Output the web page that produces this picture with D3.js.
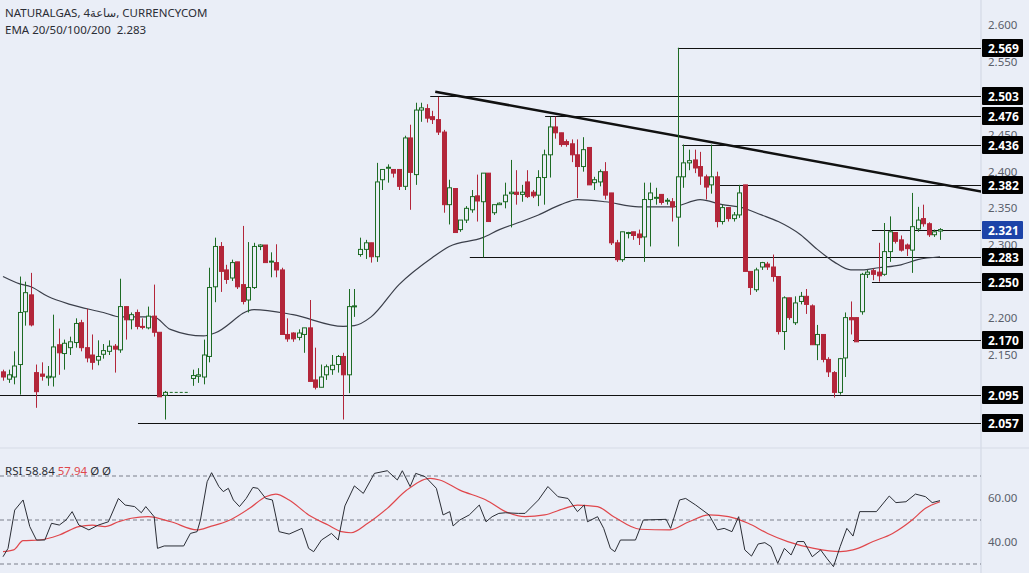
<!DOCTYPE html>
<html>
<head>
<meta charset="utf-8">
<script src="https://cdn.jsdelivr.net/npm/d3@7"></script>
<style>
  body { margin: 0; background: #eaeef7; }
  svg { display: block; font-family: "Noto Sans", "DejaVu Sans", sans-serif; }
</style>
</head>
<body>
<svg id="chart" width="1029" height="573"></svg>
<script>
// Candles [open, high, low, close], null = missing bar
var candles = [
  [2.127,2.130,2.115,2.120],[2.117,2.130,2.112,2.123],[2.120,2.155,2.110,2.135],[2.137,2.257,2.096,2.208],
  [2.209,2.250,2.190,2.235],[2.232,2.262,2.189,2.191],[2.126,2.137,2.078,2.100],[2.124,2.140,2.115,2.121],
  [2.119,2.135,2.108,2.121],[2.120,2.205,2.107,2.161],[2.164,2.186,2.123,2.153],[2.152,2.171,2.130,2.166],
  [2.160,2.175,2.150,2.168],[2.167,2.200,2.160,2.193],[2.194,2.198,2.155,2.160],[2.160,2.213,2.140,2.146],
  [2.150,2.178,2.130,2.140],[2.143,2.170,2.136,2.148],[2.151,2.165,2.145,2.156],[2.155,2.170,2.150,2.162],
  [2.162,2.165,2.126,2.158],[2.157,2.254,2.153,2.216],[2.216,2.216,2.171,2.198],[2.198,2.208,2.185,2.205],
  [2.208,2.212,2.185,2.189],[2.189,2.200,2.185,2.188],[2.187,2.216,2.185,2.203],[2.203,2.246,2.175,2.181],
  [2.181,2.181,2.093,2.093],[2.095,2.101,2.062,2.099],
  null, null, null, null,
  [2.118,2.130,2.108,2.122],[2.121,2.132,2.112,2.123],
  [2.120,2.171,2.110,2.150],[2.148,2.269,2.140,2.242],[2.243,2.310,2.222,2.298],[2.298,2.304,2.236,2.264],
  [2.266,2.273,2.247,2.253],[2.255,2.280,2.251,2.276],[2.277,2.277,2.240,2.243],[2.246,2.326,2.219,2.223],
  [2.225,2.304,2.208,2.242],[2.242,2.303,2.240,2.298],[2.298,2.301,2.293,2.300],[2.300,2.300,2.276,2.276],
  [2.277,2.290,2.256,2.278],[2.276,2.301,2.256,2.266],[2.266,2.269,2.178,2.178],[2.178,2.200,2.168,2.172],
  [2.180,2.181,2.168,2.172],[2.174,2.185,2.170,2.180],[2.178,2.187,2.153,2.187],[2.187,2.225,2.114,2.114],
  [2.116,2.160,2.103,2.106],[2.106,2.137,2.106,2.120],[2.123,2.137,2.116,2.134],[2.130,2.150,2.123,2.136],
  [2.137,2.150,2.126,2.148],[2.148,2.153,2.062,2.123],[2.123,2.240,2.098,2.216],[2.216,2.240,2.202,2.217],
  [2.287,2.310,2.284,2.294],[2.294,2.307,2.281,2.303],[2.303,2.303,2.276,2.284],[2.284,2.412,2.277,2.386],
  [2.389,2.403,2.375,2.403],[2.405,2.410,2.385,2.406],[2.403,2.403,2.392,2.398],[2.403,2.403,2.375,2.380],
  [2.380,2.449,2.375,2.446],[2.446,2.464,2.348,2.399],[2.396,2.494,2.382,2.484],[2.484,2.494,2.468,2.487],
  [2.486,2.492,2.467,2.473],[2.475,2.483,2.465,2.471],[2.471,2.502,2.450,2.454],[2.454,2.457,2.344,2.355],
  [2.355,2.389,2.328,2.378],
  [2.377,2.377,2.317,2.317],[2.321,2.334,2.318,2.334],[2.334,2.353,2.330,2.350],[2.348,2.375,2.344,2.366],
  [2.367,2.396,2.332,2.360],[2.359,2.398,2.283,2.398],[2.398,2.398,2.332,2.332],[2.344,2.355,2.341,2.355],
  [2.355,2.358,2.355,2.357],[2.359,2.385,2.350,2.368],[2.370,2.416,2.324,2.372],[2.372,2.402,2.355,2.369],
  [2.369,2.382,2.359,2.372],[2.386,2.402,2.364,2.366],[2.372,2.375,2.364,2.367],[2.368,2.402,2.353,2.392],
  [2.392,2.430,2.355,2.423],[2.423,2.475,2.392,2.461],[2.461,2.475,2.445,2.453],[2.453,2.453,2.434,2.437],
  [2.441,2.444,2.434,2.437],[2.438,2.444,2.413,2.423],[2.423,2.444,2.364,2.407],[2.407,2.447,2.400,2.430],
  [2.433,2.433,2.382,2.382],[2.385,2.393,2.375,2.389],[2.386,2.403,2.380,2.400],[2.400,2.413,2.362,2.368],
  [2.371,2.371,2.300,2.303],[2.303,2.307,2.277,2.280],[2.280,2.318,2.277,2.318],[2.317,2.318,2.309,2.317],
  [2.318,2.318,2.307,2.313],[2.315,2.321,2.300,2.310],[2.311,2.385,2.277,2.362],[2.362,2.385,2.298,2.371],
  [2.364,2.378,2.355,2.365],[2.369,2.369,2.355,2.358],[2.360,2.364,2.355,2.361],[2.359,2.364,2.332,2.352],
  [2.338,2.569,2.298,2.393],[2.393,2.437,2.378,2.412],[2.412,2.430,2.402,2.415],[2.416,2.430,2.398,2.405],
  [2.407,2.427,2.382,2.394],
  [2.393,2.396,2.362,2.379],[2.382,2.437,2.370,2.393],[2.393,2.400,2.324,2.332],[2.332,2.355,2.328,2.351],
  [2.351,2.351,2.332,2.336],[2.336,2.345,2.332,2.341],[2.341,2.382,2.337,2.371],[2.382,2.382,2.264,2.264],
  [2.264,2.264,2.232,2.242],[2.239,2.269,2.236,2.266],[2.270,2.277,2.266,2.276],[2.274,2.277,2.266,2.270],
  [2.270,2.287,2.250,2.257],[2.257,2.257,2.178,2.182],[2.182,2.230,2.157,2.228],[2.228,2.228,2.198,2.201],
  [2.194,2.230,2.191,2.221],[2.223,2.236,2.219,2.230],[2.230,2.240,2.206,2.219],[2.217,2.219,2.164,2.164],
  [2.164,2.191,2.143,2.178],[2.178,2.178,2.140,2.144],[2.144,2.147,2.120,2.127],[2.126,2.128,2.092,2.099],
  [2.099,2.146,2.096,2.145],[2.146,2.208,2.120,2.201],[2.201,2.223,2.178,2.198],[2.201,2.201,2.168,2.168],
  [2.209,2.262,2.205,2.260],[2.260,2.266,2.255,2.263],[2.265,2.268,2.252,2.260],[2.263,2.303,2.250,2.258],
  [2.260,2.330,2.258,2.291],[2.291,2.339,2.277,2.318],[2.317,2.317,2.302,2.305],[2.307,2.313,2.291,2.293],
  [2.300,2.302,2.285,2.295],[2.293,2.371,2.262,2.325],[2.322,2.352,2.318,2.334],[2.336,2.355,2.325,2.329],
  [2.329,2.331,2.311,2.314],[2.314,2.321,2.311,2.318],[2.319,2.323,2.307,2.321]
];

// EMA 50 samples [bar index, price]
var ema = [[0,2.257],[3,2.247],[5,2.243],[8,2.230],[12,2.219],[18,2.208],[21,2.202],[27,2.202],[30,2.185],
  [36,2.176],[38,2.180],[45,2.212],[52,2.205],[61,2.189],[63,2.190],[66,2.202],[71,2.246],[77,2.283],[80,2.298],
  [86,2.310],[89,2.321],[93,2.332],[96,2.341],[100,2.355],[103,2.362],[108,2.359],[114,2.352],[120,2.352],
  [125,2.362],[129,2.355],[132,2.352],[136,2.341],[139,2.332],[143,2.314],[146,2.294],[149,2.277],[152,2.266],
  [154,2.266],[157,2.269],[161,2.273],[164,2.280],[168,2.284]];

// Horizontal levels [start bar, price]
var levels = [[121,2.569],[76.6,2.503],[97.2,2.476],[121.8,2.436],[128,2.382],[155.8,2.321],
  [83.7,2.283],[155.8,2.250],[152.4,2.170],[-1,2.095],[24.2,2.057]];
var lastPrice = 2.321;
var trend = [[77.5,2.509],[175.4,2.373]];
var priceTicks = [2.600,2.550,2.500,2.450,2.400,2.350,2.300,2.250,2.200,2.150];

// RSI samples [bar index, value]
var rsi = [[0,33.3],[0.9,37.1],[2.1,54.5],[3.6,59.1],[4.8,47.0],[6.0,40.9],[7.5,40.9],[8.7,48.5],[10.1,47.7],
  [11.3,50.0],[12.4,53.8],[13.6,47.7],[15.4,45.5],[17.1,47.7],[18.9,49.2],[20.7,59.8],[21.9,56.8],[23.6,56.1],
  [24.8,53.3],[25.6,56.1],[27.1,51.5],[27.7,37.1],[28.9,38.2],[32.4,38.2],[33.6,43.9],[34.8,44.7],[35.4,50.0],
  [36.6,67.4],[37.4,71.5],[38.7,65.2],[39.5,62.9],[40.4,64.4],[41.3,59.1],[42.4,56.1],[43.6,59.8],[44.8,64.8],
  [45.7,64.4],[47.1,59.8],[48.3,59.1],[49.5,44.7],[51.3,43.6],[53.6,46.2],[54.8,37.1],[55.7,35.6],[57.1,40.9],
  [58.9,43.9],[60.1,40.9],[61.3,56.4],[63.0,65.5],[64.6,62.1],[66.6,71.2],[68.9,72.4],[70.7,68.2],[71.6,72.4],
  [73.0,65.2],[74.0,71.2],[75.7,69.7],[77.7,64.4],[78.9,52.3],[80.1,53.8],[80.7,47.3],[81.9,50.0],[83.6,52.3],
  [85.4,56.8],[86.6,49.2],[87.7,51.5],[88.9,53.0],[90.1,53.3],[92.4,53.0],[93.6,53.0],[96.0,59.1],[97.7,65.2],
  [99.5,60.6],[101.3,59.8],[103.0,53.8],[104.2,56.8],[104.8,49.2],[106.6,51.5],[107.7,46.2],[108.9,37.1],
  [109.7,35.6],[110.7,40.9],[113.4,40.9],[114.8,50.0],[118.9,50.3],[119.7,46.2],[121.3,59.1],[122.4,59.8],
  [124.2,56.8],[126.6,52.3],[128.1,45.5],[129.3,46.2],[130.7,44.7],[131.9,51.5],[133.0,36.4],[134.2,33.6],
  [135.4,39.1],[136.6,39.7],[137.7,37.9],[138.9,30.3],[140.1,37.1],[141.3,34.1],[142.4,40.2],[143.6,40.2],
  [145.1,33.3],[146.6,36.4],[147.7,32.6],[148.9,28.8],[150.1,37.9],[151.3,46.2],[152.4,42.7],[153.6,53.8],
  [156.6,53.8],[158.9,60.9],[160.1,57.9],[161.9,58.3],[163.6,61.8],[165.4,60.6],[166.6,57.9],[168.0,58.8]];
var rsiMa = [[0,35.6],[1.9,36.4],[3.6,40.6],[6.6,40.9],[10.1,43.2],[13.6,47.0],[16.0,47.7],[18.3,47.0],
  [20.7,49.2],[23.0,50.8],[26.0,51.5],[30.1,49.2],[34.8,45.5],[37.1,47.0],[40.7,50.0],[44.2,55.3],[47.1,60.6],
  [48.9,61.8],[51.3,59.1],[54.8,52.3],[58.3,47.7],[60.7,44.7],[62.4,44.2],[65.4,48.5],[68.9,55.3],[72.4,63.6],
  [76.6,68.9],[78.3,68.2],[81.9,63.6],[86.6,59.1],[90.1,53.8],[93.6,51.5],[97.1,52.3],[100.7,55.3],[103.0,56.8],
  [106.6,56.1],[109.5,51.5],[114.2,45.8],[119.5,45.5],[123.0,49.2],[126.6,52.3],[130.1,51.5],[133.6,48.5],
  [137.1,43.9],[140.7,40.2],[145.4,37.1],[150.1,35.6],[152.4,36.4],[156.0,40.2],[159.5,43.9],[163.0,50.0],
  [165.4,55.3],[168.0,58.3]];
var rsiTicks = [60, 40];
var rsiBands = [70, 50, 30];

var svg = d3.select("#chart");
var axisX = 981;
var green = "#1d6b24", red = "#b3263a";

var x = d3.scaleLinear().domain([0, candles.length - 1]).range([3, 940]);
var y = d3.scaleLinear().domain([2.6, 2.15]).range([25, 355]);
var yr = d3.scaleLinear().domain([50, 70]).range([520, 476]);

svg.append("rect").attr("width", 1029).attr("height", 573).attr("fill", "#eaeef7");

// panel borders
svg.append("line").attr("x1", axisX).attr("x2", axisX).attr("y1", 0).attr("y2", 573).attr("stroke", "#cfd5e2");
svg.append("line").attr("x1", 0).attr("x2", 1029).attr("y1", 448).attr("y2", 448).attr("stroke", "#d6dbe6");

var main = svg.append("g");
main.append("clipPath").attr("id", "clipMain").append("rect").attr("width", axisX).attr("height", 446);

// levels
main.selectAll(".lvl").data(levels).enter().append("line")
  .attr("x1", d => Math.max(0, x(d[0]))).attr("x2", axisX)
  .attr("y1", d => Math.round(y(d[1])) + 0.5).attr("y2", d => Math.round(y(d[1])) + 0.5)
  .attr("stroke", "#111").attr("stroke-width", 1);

// dashed stub on 2.095
main.append("line").attr("x1", x(29)).attr("x2", x(33.5))
  .attr("y1", y(2.099)).attr("y2", y(2.099)).attr("stroke", green).attr("stroke-dasharray", "3,2");

// trend line
main.append("line").attr("clip-path", "url(#clipMain)")
  .attr("x1", x(trend[0][0])).attr("y1", y(trend[0][1]))
  .attr("x2", x(trend[1][0])).attr("y2", y(trend[1][1]))
  .attr("stroke", "#111").attr("stroke-width", 2.5);

// EMA
main.append("path").datum(ema)
  .attr("d", d3.line().x(d => x(d[0])).y(d => y(d[1])).curve(d3.curveMonotoneX))
  .attr("fill", "none").attr("stroke", "#3b3f4a").attr("stroke-width", 1.2);

// candles
var bars = candles.map((c, i) => c ? {i: i, o: c[0], h: c[1], l: c[2], c: c[3]} : null).filter(d => d);
var cg = main.selectAll(".c").data(bars).enter().append("g");
cg.append("line")
  .attr("x1", d => Math.round(x(d.i)) + 0.5).attr("x2", d => Math.round(x(d.i)) + 0.5)
  .attr("y1", d => y(d.h)).attr("y2", d => y(d.l))
  .attr("stroke", d => d.c >= d.o ? green : red).attr("stroke-width", 1);
cg.append("rect")
  .attr("x", d => Math.round(x(d.i)) - 1.5).attr("width", 4)
  .attr("y", d => y(Math.max(d.o, d.c)))
  .attr("height", d => Math.max(1, Math.abs(y(d.o) - y(d.c))))
  .attr("fill", d => d.c >= d.o ? "#eaeef7" : red)
  .attr("stroke", d => d.c >= d.o ? green : red).attr("stroke-width", 1);

// price axis
svg.selectAll(".pt").data(priceTicks).enter().append("text")
  .attr("x", 988).attr("y", d => y(d) + 4).attr("font-size", 11.5).attr("fill", "#5a5f6b")
  .text(d => d3.format(".3f")(d));

var lb = svg.selectAll(".lb").data(levels).enter().append("g")
  .attr("transform", d => "translate(" + (axisX + 1) + "," + Math.round(y(d[1])) + ")");
lb.append("rect").attr("x", 0).attr("y", -9).attr("width", 41).attr("height", 18).attr("rx", 1)
  .attr("fill", d => d[1] === lastPrice ? "#1c43a8" : "#000");
lb.append("text").attr("x", 6).attr("y", 4.5).attr("font-size", 12).attr("font-weight", "bold")
  .attr("fill", "#fff").text(d => d3.format(".3f")(d[1]));

// RSI panel
svg.selectAll(".rb").data(rsiBands).enter().append("line")
  .attr("x1", 0).attr("x2", axisX).attr("y1", d => yr(d)).attr("y2", d => yr(d))
  .attr("stroke", "#7a7f8a").attr("stroke-dasharray", "4,3").attr("stroke-width", 1);
svg.append("path").datum(rsiMa)
  .attr("d", d3.line().x(d => x(d[0])).y(d => yr(d[1])).curve(d3.curveMonotoneX))
  .attr("fill", "none").attr("stroke", "#e0474c").attr("stroke-width", 1.2);
svg.append("path").datum(rsi)
  .attr("d", d3.line().x(d => x(d[0])).y(d => yr(d[1])))
  .attr("fill", "none").attr("stroke", "#2a2d35").attr("stroke-width", 1);
svg.selectAll(".rt").data(rsiTicks).enter().append("text")
  .attr("x", 988).attr("y", d => yr(d) + 4).attr("font-size", 11.5).attr("fill", "#5a5f6b")
  .text(d => d3.format(".2f")(d));

// legends
var leg = svg.append("g").attr("font-size", 11.5).attr("fill", "#2a2d35");
leg.append("text").attr("x", 5).attr("y", 17).text("NATURALGAS, 4ساعة, CURRENCYCOM");
leg.append("text").attr("x", 5).attr("y", 34).attr("xml:space", "preserve").text("EMA 20/50/100/200  2.283");
var rl = svg.append("text").attr("x", 5).attr("y", 475).attr("font-size", 11.5).attr("fill", "#2a2d35");
rl.append("tspan").text("RSI 58.84 ");
rl.append("tspan").attr("fill", "#e0474c").text("57.94");
rl.append("tspan").text("  Ø  Ø");
</script>
</body>
</html>
